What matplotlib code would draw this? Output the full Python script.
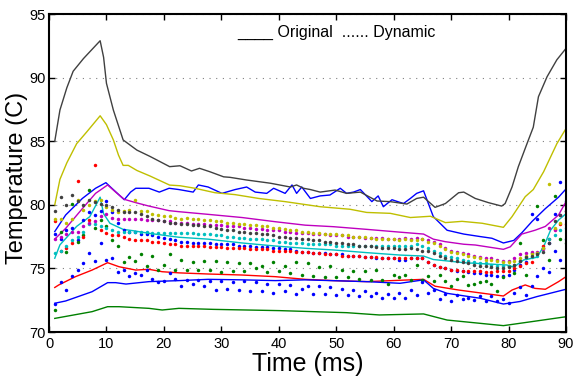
import matplotlib
matplotlib.use("Agg")
import matplotlib.pyplot as plt

plt.rcParams['font.family'] = ['Liberation Sans', 'DejaVu Sans']

# classic matlab colour order
c_blue = (0, 0, 1)
c_green = (0, 0.5, 0)
c_red = (1, 0, 0)
c_cyan = (0, 0.75, 0.75)
c_mag = (0.75, 0, 0.75)
c_yel = (0.75, 0.75, 0)
c_grey = (0.25, 0.25, 0.25)

# ---- Original (solid lines) ----
black_t = [1, 1.9, 3.1, 4.2, 6, 8.9, 9.5, 10, 11.2, 12.9, 15.3, 17.6, 21, 22.8, 24.8, 26.2, 28, 30.4, 31.5, 34.4, 38.5, 42, 43.1, 44.3, 45.5, 47.2, 49.8, 51.8, 54.2, 57.1, 59.4, 62.3, 64, 65.2, 67.2, 69, 71.3, 72.2, 74.2, 76.5, 78.8, 79.4, 80.6, 81.7, 83.2, 84.3, 85.2, 86.7, 88.4, 90]
black_T = [85.0, 87.45, 89.2, 90.5, 91.5, 92.9, 91.6, 89.55, 87.45, 85.1, 84.3, 83.8, 83.0, 83.07, 82.66, 82.87, 82.6, 82.2, 82.16, 81.95, 81.7, 81.4, 81.56, 81.3, 81.2, 81.0, 81.16, 80.9, 81.0, 80.3, 80.25, 80.06, 80.5, 80.6, 79.8, 80.1, 80.95, 81.0, 80.5, 80.17, 79.9, 80.1, 81.4, 83.0, 84.8, 86.1, 88.5, 90.07, 91.4, 92.3]

yellow_t = [1, 1.9, 3.1, 4.8, 6.6, 8.9, 10, 11.2, 12.1, 12.9, 13.8, 15.3, 17.6, 21, 22.8, 25.4, 28.9, 32.4, 36.5, 41.1, 44, 47.2, 52.4, 55.3, 59.4, 62.9, 66.4, 69, 71.9, 75.4, 79.1, 80.6, 82.9, 84.3, 86.1, 88.4, 90]
yellow_T = [80.0, 82.0, 83.3, 84.8, 85.75, 87.0, 86.3, 85.1, 83.9, 83.1, 83.1, 82.7, 82.26, 81.55, 81.5, 81.3, 80.95, 80.8, 80.5, 80.25, 80.06, 79.85, 79.65, 79.4, 79.33, 79.0, 79.1, 78.6, 78.7, 78.55, 78.23, 79.07, 80.64, 81.2, 82.6, 84.8, 86.0]

blue1_t = [1, 2.9, 5.8, 8.1, 9.9, 10.7, 13.1, 14.2, 15.1, 17.4, 19.2, 20.9, 22.6, 25.1, 26, 27.7, 30.1, 32.4, 34.4, 35.9, 37.9, 39.1, 41.1, 42.3, 43.1, 44, 45.5, 47.2, 48.9, 50.7, 51.8, 53, 54.2, 56.2, 57.3, 58.2, 59.7, 61.7, 62.9, 64, 65.2, 66.9, 69.3, 72.2, 75.1, 77.1, 79.1, 80.9, 82.3, 84.1, 86.4, 88.7, 90]
blue1_T = [77.9, 79.2, 80.5, 81.3, 81.74, 81.4, 80.4, 81.0, 81.3, 81.3, 81.0, 81.3, 81.2, 81.0, 81.56, 81.4, 80.9, 81.2, 81.4, 81.0, 80.9, 81.3, 80.9, 81.56, 80.9, 81.4, 80.5, 80.7, 80.77, 81.3, 80.9, 81.0, 81.2, 80.25, 80.7, 79.85, 80.4, 80.1, 80.5, 80.9, 81.1, 79.07, 78.0, 77.7, 77.5, 77.37, 77.0, 77.2, 77.8, 78.7, 79.7, 80.6, 81.25]

mag_t = [1, 2.9, 5.8, 8.1, 10.2, 11.6, 13.1, 15.1, 17.4, 20.9, 22.6, 27.7, 33.6, 39.4, 44.6, 49.5, 55.3, 61.1, 65.2, 66.9, 69, 72.2, 74.2, 79.1, 80.3, 82.3, 84.6, 86.4, 88.7, 90]
mag_T = [77.3, 78.15, 79.7, 80.9, 81.56, 81.0, 80.43, 80.17, 79.9, 79.54, 79.46, 79.25, 79.0, 78.67, 78.4, 78.28, 78.07, 77.85, 77.7, 77.3, 77.1, 76.9, 76.84, 76.5, 76.7, 77.7, 78.0, 78.3, 79.2, 80.25]

cyan_t = [1, 1.9, 4.8, 7.1, 8.9, 9.5, 10.6, 12.9, 14.7, 17.4, 22.6, 27.7, 33.6, 39.4, 44.6, 49.5, 55.3, 61.1, 65.2, 66.9, 72.2, 79.7, 80.9, 82.6, 84.9, 86.1, 87.3, 88.7, 90]
cyan_T = [75.8, 76.85, 78.3, 79.07, 80.6, 79.3, 78.55, 78.07, 77.96, 77.76, 77.45, 77.3, 77.0, 76.76, 76.58, 76.45, 76.24, 76.05, 75.97, 75.7, 75.45, 75.27, 75.1, 75.66, 75.87, 76.7, 78.0, 78.8, 79.3]

red_t = [1, 1.7, 4.6, 7.5, 10.2, 12.2, 15.1, 17.4, 19.7, 22.6, 27.7, 33.6, 39.4, 44.6, 49.5, 55.3, 62.9, 65.2, 67.2, 71.3, 79.1, 80.6, 82.9, 84.6, 86.4, 88.7, 90]
red_T = [73.5, 73.7, 74.35, 74.87, 75.45, 75.13, 74.87, 74.93, 74.74, 74.65, 74.56, 74.48, 74.35, 74.14, 74.04, 73.96, 74.1, 74.14, 73.6, 73.3, 72.83, 73.3, 73.7, 73.43, 73.36, 73.96, 74.35]

blue2_t = [1, 2.9, 7.5, 10.2, 11.6, 13.4, 17.4, 22.6, 27.7, 33.6, 39.4, 44.6, 55.3, 61.1, 65.2, 66.9, 69.3, 75.1, 79.1, 82, 84.9, 90]
blue2_T = [72.26, 72.44, 73.17, 73.88, 73.88, 73.77, 73.96, 74.04, 74.14, 74.1, 74.04, 74.1, 73.96, 73.83, 74.1, 73.43, 73.04, 72.65, 72.2, 72.4, 72.78, 73.36]

green_t = [1, 7.5, 10.2, 12.2, 17.4, 19.7, 22.6, 28.6, 34.4, 40.2, 46, 51.8, 57.5, 65.2, 69.3, 75.1, 79.1, 83.8, 90]
green_T = [71.07, 71.6, 71.99, 71.99, 71.86, 71.73, 71.86, 71.78, 71.73, 71.68, 71.6, 71.52, 71.34, 71.42, 70.94, 70.68, 70.5, 70.8, 71.2]

# ---- Dynamic (dots, one per ms) ----
dyn_t = list(range(1, 91))

dyn_grey = [79.5, 80.6, 80.0, 80.8, 80.3, 80.0, 80.4, 80.2, 80.1, 80.0,
            79.8, 79.6, 79.4, 79.4, 79.4, 79.3, 79.1, 78.9, 78.8, 78.7,
            78.6, 78.6, 78.5, 78.5, 78.4, 78.4, 78.3, 78.3, 78.2, 78.1,
            78.0, 78.0, 77.9, 77.9, 77.8, 77.8, 77.7, 77.7, 77.6, 77.5,
            77.5, 77.4, 77.4, 77.3, 77.3, 77.2, 77.2, 77.1, 77.1, 77.0,
            77.0, 76.9, 76.9, 76.8, 76.8, 76.8, 76.7, 76.6, 76.6, 76.6,
            76.5, 76.5, 76.6, 76.5, 76.4, 76.4, 76.2, 76.0, 75.8, 75.7,
            75.6, 75.5, 75.4, 75.3, 75.2, 75.2, 75.1, 75.0, 75.0, 75.1,
            75.3, 75.6, 75.9, 76.0, 76.1, 76.3, 77.0, 78.7, 79.2, 79.5]

dyn_yellow = [78.9, 78.9, 78.6, 78.9, 80.4, 79.6, 80.0, 80.3, 80.4, 79.8,
              79.6, 79.4, 79.5, 79.6, 80.4, 79.5, 79.5, 79.3, 79.2, 79.1,
              79.1, 79.0, 78.9, 79.0, 78.9, 78.9, 78.8, 78.8, 78.7, 78.7,
              78.6, 78.6, 78.5, 78.5, 78.4, 78.4, 78.3, 78.3, 78.2, 78.2,
              78.1, 78.0, 78.0, 77.9, 77.9, 77.8, 77.8, 77.7, 77.7, 77.7,
              77.6, 77.6, 77.5, 77.5, 77.5, 77.4, 77.3, 77.3, 77.3, 77.3,
              77.2, 77.3, 77.2, 77.2, 77.3, 77.1, 77.0, 76.8, 76.5, 76.3,
              76.2, 76.1, 76.0, 75.9, 75.8, 75.7, 75.7, 75.6, 75.5, 75.5,
              75.6, 75.8, 76.0, 76.1, 76.2, 76.6, 81.6, 78.2, 78.6, 79.0]

dyn_mag = [77.3, 77.5, 77.7, 77.9, 77.9, 78.3, 78.6, 78.7, 79.1, 79.3,
           79.0, 78.9, 78.9, 78.9, 78.9, 78.9, 78.8, 78.8, 78.8, 78.7,
           78.7, 78.6, 78.6, 78.6, 78.5, 78.5, 78.5, 78.4, 78.4, 78.4,
           78.3, 78.3, 78.3, 78.2, 78.2, 78.1, 78.1, 78.0, 78.0, 78.0,
           77.9, 77.9, 77.8, 77.8, 77.8, 77.7, 77.7, 77.7, 77.6, 77.6,
           77.6, 77.5, 77.5, 77.5, 77.4, 77.4, 77.4, 77.4, 77.3, 77.3,
           77.3, 77.4, 77.3, 77.4, 77.3, 77.2, 77.1, 76.9, 76.6, 76.4,
           76.3, 76.2, 76.1, 76.0, 75.9, 75.8, 75.8, 75.7, 75.6, 75.6,
           75.8, 76.1, 76.2, 76.3, 76.3, 76.5, 78.2, 78.0, 79.2, 79.5]

dyn_cyan = [76.2, 76.4, 76.8, 77.2, 77.5, 77.9, 78.5, 78.5, 78.3, 78.2,
            78.0, 77.9, 77.9, 77.9, 77.9, 77.9, 77.9, 77.8, 77.8, 77.8,
            77.8, 77.8, 77.8, 77.8, 77.8, 77.7, 77.7, 77.7, 77.6, 77.6,
            77.5, 77.5, 77.4, 77.4, 77.3, 77.3, 77.3, 77.2, 77.2, 77.1,
            77.1, 77.0, 77.0, 77.0, 76.9, 76.9, 76.9, 76.9, 76.9, 76.8,
            76.8, 76.8, 76.8, 76.8, 76.8, 76.8, 76.8, 76.8, 76.8, 76.8,
            76.8, 76.8, 76.8, 76.9, 76.8, 76.6, 76.4, 76.2, 76.0, 75.9,
            75.8, 75.7, 75.6, 75.5, 75.4, 75.4, 75.3, 75.2, 75.2, 75.2,
            75.3, 75.6, 75.8, 75.9, 76.0, 76.6, 77.3, 77.6, 78.0, 78.2]

dyn_blue1 = [77.7, 77.3, 78.0, 78.2, 77.2, 78.8, 79.4, 79.2, 79.5, 80.3,
             79.4, 78.6, 78.0, 77.9, 77.9, 77.7, 77.7, 77.6, 77.5, 77.4,
             77.3, 77.2, 77.1, 77.1, 77.0, 77.0, 77.0, 77.0, 76.9, 76.9,
             76.9, 76.9, 76.8, 76.8, 76.8, 76.7, 76.7, 76.7, 76.6, 76.6,
             76.5, 76.5, 76.4, 76.3, 76.3, 76.2, 76.2, 76.2, 76.1, 76.1,
             76.1, 76.0, 76.0, 76.0, 75.9, 75.9, 75.8, 75.8, 75.8, 75.8,
             75.7, 75.7, 75.8, 75.8, 75.8, 75.5, 75.3, 75.1, 75.0, 74.9,
             74.8, 74.8, 74.7, 74.6, 74.6, 74.5, 74.5, 74.4, 74.4, 74.5,
             74.9, 75.3, 75.5, 79.3, 78.9, 76.6, 77.0, 79.3, 81.8, 80.3]

dyn_red = [78.7, 76.4, 76.6, 77.0, 81.9, 77.5, 78.8, 83.1, 78.0, 77.8,
           77.6, 77.6, 77.5, 77.3, 77.2, 77.2, 77.2, 77.1, 77.1, 77.0,
           76.9, 76.9, 76.8, 76.8, 76.8, 76.8, 76.8, 76.7, 76.7, 76.7,
           76.6, 76.6, 76.6, 76.6, 76.5, 76.5, 76.5, 76.5, 76.4, 76.4,
           76.4, 76.4, 76.3, 76.3, 76.3, 76.2, 76.2, 76.1, 76.1, 76.1,
           76.0, 76.0, 76.0, 76.0, 75.9, 75.9, 75.9, 75.8, 75.8, 75.8,
           75.8, 75.8, 75.8, 75.8, 75.8, 75.5, 75.3, 75.1, 75.0, 74.9,
           74.9, 74.8, 74.8, 74.8, 74.8, 74.7, 74.7, 74.8, 74.8, 74.8,
           75.0, 75.2, 75.4, 75.5, 76.2, 76.8, 77.3, 78.1, 78.5, 78.5]

dyn_green = [71.7, 77.9, 76.3, 80.1, 77.1, 77.6, 81.2, 78.2, 78.8, 78.3,
             77.2, 76.8, 75.5, 75.9, 75.6, 76.1, 75.2, 76.0, 74.9, 75.3,
             76.1, 74.9, 75.7, 74.9, 75.5, 74.9, 75.6, 74.9, 75.6, 74.7,
             75.5, 74.8, 75.4, 74.8, 75.4, 75.0, 75.2, 74.7, 75.5, 74.8,
             75.2, 74.6, 75.5, 74.5, 75.4, 74.4, 75.1, 74.3, 75.2, 74.3,
             74.9, 74.3, 74.8, 74.2, 74.8, 74.1, 74.9, 74.1, 73.8, 74.5,
             74.3, 74.5, 74.1, 75.3, 74.1, 74.4, 74.0, 74.5, 74.0, 73.6,
             74.2, 74.4, 73.7, 73.8, 73.9, 74.0, 73.8, 73.2, 74.3, 75.2,
             74.6, 77.0, 74.5, 76.2, 79.9, 77.2, 75.7, 80.7, 77.3, 77.0]

dyn_blue2 = [72.2, 73.9, 73.3, 74.4, 74.9, 75.4, 76.2, 75.6, 77.0, 75.7,
             75.8, 74.7, 74.9, 74.4, 74.6, 74.5, 74.9, 74.2, 73.9, 74.0,
             74.6, 74.2, 73.6, 74.1, 73.8, 74.1, 73.6, 74.0, 73.3, 74.0,
             73.4, 73.9, 73.3, 74.0, 73.2, 73.9, 73.2, 73.8, 73.1, 73.8,
             73.2, 73.7, 73.0, 73.4, 73.6, 73.0, 73.6, 73.0, 73.5, 72.9,
             73.4, 72.9, 73.3, 72.8, 73.2, 72.8, 73.1, 72.7, 73.0, 72.7,
             73.1, 72.7, 73.3, 72.9, 73.9, 73.1, 73.3, 72.6, 73.0, 72.4,
             72.9, 72.6, 72.7, 72.5, 72.8, 72.4, 72.8, 72.4, 72.6, 72.3,
             73.1, 73.5, 72.9, 73.6, 74.4, 75.0, 74.7, 76.4, 75.7, 77.3]

fig = plt.figure(figsize=(5.74, 3.79), dpi=100)
ax = fig.add_axes([0.0854, 0.124, 0.9007, 0.839])

lines = [(blue1_t, blue1_T, c_blue), (green_t, green_T, c_green), (red_t, red_T, c_red),
         (cyan_t, cyan_T, c_cyan), (mag_t, mag_T, c_mag), (yellow_t, yellow_T, c_yel),
         (black_t, black_T, c_grey), (blue2_t, blue2_T, c_blue)]
for t, T, c in lines:
    ax.plot(t, T, '-', color=c, lw=1.0)

dots = [(dyn_blue1, c_blue), (dyn_green, c_green), (dyn_red, c_red), (dyn_cyan, c_cyan),
        (dyn_mag, c_mag), (dyn_yellow, c_yel), (dyn_grey, c_grey), (dyn_blue2, c_blue)]
for T, c in dots:
    ax.plot(dyn_t, T, 'o', color=c, ms=2.5, mew=0)

ax.set_xlim(0, 90)
ax.set_ylim(70, 95)
ax.set_xticks(range(0, 91, 10))
ax.set_yticks(range(70, 96, 5))
ax.yaxis.grid(True, linestyle=(0, (1, 5)), color='grey', lw=0.8)
ax.tick_params(direction='in', top=True, right=True, length=4, width=1, labelsize=10.5)
ax.tick_params(axis='y', pad=2.5)
for s in ax.spines.values():
    s.set_linewidth(1.5)

ax.set_xlabel('Time (ms)', fontsize=18, labelpad=1)
ax.set_ylabel('Temperature (C)', fontsize=17)
ax.yaxis.set_label_coords(-0.040, 0.486)

ax.text(0.364, 0.928, '____ Original  ...... Dynamic', transform=ax.transAxes,
        fontsize=11.5, va='baseline')

plt.savefig('out.png', dpi=100)
